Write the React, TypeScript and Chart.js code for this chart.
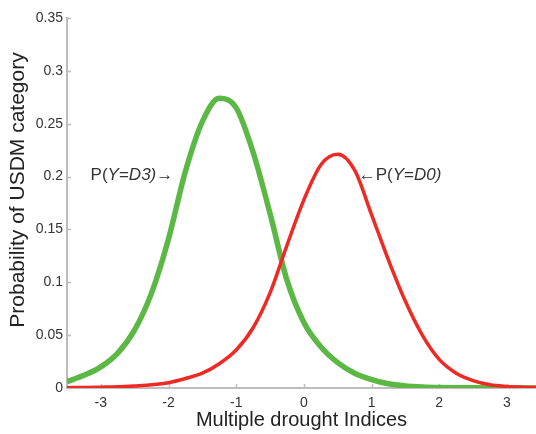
import React, { useEffect, useRef } from "react";
import { Chart, registerables } from "chart.js";

Chart.register(...registerables);

// ---- data ----
const xValues = [
  -3.5, -3.25, -3.0, -2.75, -2.5, -2.25, -2.0, -1.75, -1.5, -1.25, -1.0, -0.75, -0.5, -0.25, 0,
  0.25, 0.5, 0.75, 1.0, 1.25, 1.5, 1.75, 2.0, 2.25, 2.5, 2.75, 3.0, 3.25, 3.5,
];
const d3Values = [
  0.006, 0.012, 0.02, 0.033, 0.055, 0.09, 0.141, 0.205, 0.252, 0.274, 0.265, 0.223, 0.165, 0.102, 0.062,
  0.039, 0.024, 0.014, 0.008, 0.004, 0.002, 0.001, 0.0005, 0.0003, 0.0002, 0.0001, 0.0001, 0.0, 0.0,
];
const d0Values = [
  0.0003, 0.0005, 0.0008, 0.0012, 0.002, 0.003, 0.005, 0.009, 0.014, 0.023, 0.036, 0.057, 0.09, 0.135, 0.178,
  0.211, 0.221, 0.206, 0.164, 0.121, 0.082, 0.05, 0.027, 0.014, 0.007, 0.003, 0.0015, 0.0008, 0.0004,
];
const xTickValues = [-3, -2, -1, 0, 1, 2, 3];
const xTickLabels = ["-3", "-2", "-1", "0", "1", "2", "3"];
const yTickValues = [0, 0.05, 0.1, 0.15, 0.2, 0.25, 0.3, 0.35];
const yTickLabels = ["0", "0.05", "0.1", "0.15", "0.2", "0.25", "0.3", "0.35"];
const xAxisTitle = "Multiple drought Indices";
const yAxisTitle = "Probability of USDM category";

const FONT = "'Liberation Sans', Arial, sans-serif";
const TEXT = "#333333";
const AXIS = "#bdbdbd";

type Part = { t: string; i?: boolean };
const annotations: { parts: Part[]; x: number; y: number; align: "left" | "right" }[] = [
  {
    parts: [{ t: "P(" }, { t: "Y", i: true }, { t: "=" }, { t: "D3)", i: true }, { t: "\u2192" }],
    x: -1.93,
    y: 0.2,
    align: "right",
  },
  {
    parts: [{ t: "\u2190" }, { t: "P(" }, { t: "Y", i: true }, { t: "=" }, { t: "D0)", i: true }],
    x: 0.81,
    y: 0.2,
    align: "left",
  },
];

const inwardTicks = {
  id: "inwardTicks",
  beforeDatasetsDraw(chart: any) {
    const { ctx, chartArea, scales } = chart;
    ctx.save();
    ctx.strokeStyle = AXIS;
    ctx.lineWidth = 1.5;
    ctx.beginPath();
    for (const v of xTickValues) {
      const px = Math.round(scales.x.getPixelForValue(v)) + 0.5;
      ctx.moveTo(px, chartArea.bottom);
      ctx.lineTo(px, chartArea.bottom - 4);
    }
    for (const v of yTickValues) {
      const py = Math.round(scales.y.getPixelForValue(v)) + 0.5;
      ctx.moveTo(chartArea.left, py);
      ctx.lineTo(chartArea.left + 4, py);
    }
    ctx.stroke();
    // y-axis title (rotated), centred a little above the plot middle as in the original
    ctx.fillStyle = "#222";
    ctx.font = `21px ${FONT}`;
    ctx.textAlign = "center";
    ctx.textBaseline = "middle";
    ctx.translate(18, (chartArea.top + chartArea.bottom) / 2 - 13);
    ctx.rotate(-Math.PI / 2);
    ctx.fillText(yAxisTitle, 0, 0);
    ctx.restore();
  },
};

const annotPlugin = {
  id: "annotPlugin",
  afterDatasetsDraw(chart: any) {
    const { ctx, scales } = chart;
    ctx.save();
    ctx.fillStyle = TEXT;
    ctx.textBaseline = "middle";
    ctx.textAlign = "left";
    for (const a of annotations) {
      const fonts = a.parts.map((p) => `${p.i ? "italic " : ""}17px ${FONT}`);
      const widths = a.parts.map((p, k) => {
        ctx.font = fonts[k];
        return ctx.measureText(p.t).width;
      });
      const total = widths.reduce((s, w) => s + w, 0);
      let x = scales.x.getPixelForValue(a.x);
      const y = scales.y.getPixelForValue(a.y) - 1;
      if (a.align === "right") x -= total;
      a.parts.forEach((p, k) => {
        ctx.font = fonts[k];
        ctx.fillText(p.t, x, y);
        x += widths[k];
      });
    }
    ctx.restore();
  },
};

export default function App() {
  const ref = useRef<HTMLCanvasElement | null>(null);
  useEffect(() => {
    document.body.style.margin = "0";
    const canvas = ref.current;
    if (!canvas) return;
    const chart = new Chart(canvas, {
      type: "line",
      data: {
        datasets: [
          {
            label: "P(Y=D0)",
            data: xValues.map((x, i) => ({ x, y: d0Values[i] })),
            borderColor: "#ee2a24",
            borderWidth: 3.5,
            pointRadius: 0,
            cubicInterpolationMode: "monotone",
            fill: false,
          },
          {
            label: "P(Y=D3)",
            data: xValues.map((x, i) => ({ x, y: d3Values[i] })),
            borderColor: "#5cb845",
            borderWidth: 5.5,
            pointRadius: 0,
            cubicInterpolationMode: "monotone",
            fill: false,
          },
        ],
      },
      options: {
        responsive: false,
        maintainAspectRatio: false,
        animation: false,
        devicePixelRatio: 1,
        layout: { padding: { top: 18, right: 0, left: 0, bottom: 0 } },
        plugins: { legend: { display: false }, tooltip: { enabled: false } },
        scales: {
          x: {
            type: "linear",
            min: -3.5,
            max: 3.43,
            afterBuildTicks: (s: any) => {
              s.ticks = xTickValues.map((v) => ({ value: v }));
            },
            afterFit: (s: any) => {
              s.height = 46;
            },
            ticks: {
              padding: 7,
              color: TEXT,
              font: { family: FONT, size: 14 },
              callback: (v: any) => xTickLabels[xTickValues.indexOf(Number(v))] ?? "",
              maxRotation: 0,
              autoSkip: false,
            },
            grid: { display: false, drawTicks: false },
            border: { display: true, color: AXIS, width: 2 },
            title: {
              display: true,
              text: xAxisTitle,
              color: "#222",
              font: { family: FONT, size: 20 },
              padding: { top: 0, bottom: 2 },
            },
          },
          y: {
            type: "linear",
            min: 0,
            max: 0.35,
            afterBuildTicks: (s: any) => {
              s.ticks = yTickValues.map((v) => ({ value: v }));
            },
            afterFit: (s: any) => {
              s.width = 67;
            },
            ticks: {
              padding: 4,
              color: TEXT,
              font: { family: FONT, size: 14 },
              callback: (v: any) => {
                const k = yTickValues.findIndex((t) => Math.abs(t - Number(v)) < 1e-9);
                return k >= 0 ? yTickLabels[k] : "";
              },
              autoSkip: false,
            },
            grid: { display: false, drawTicks: false },
            border: { display: true, color: AXIS, width: 2 },
            title: { display: false },
          },
        },
      },
      plugins: [inwardTicks, annotPlugin],
    } as any);
    return () => chart.destroy();
  }, []);
  return (
    <div style={{ width: 536, height: 434, background: "#fff" }}>
      <canvas ref={ref} width={536} height={434} style={{ display: "block" }} />
    </div>
  );
}
